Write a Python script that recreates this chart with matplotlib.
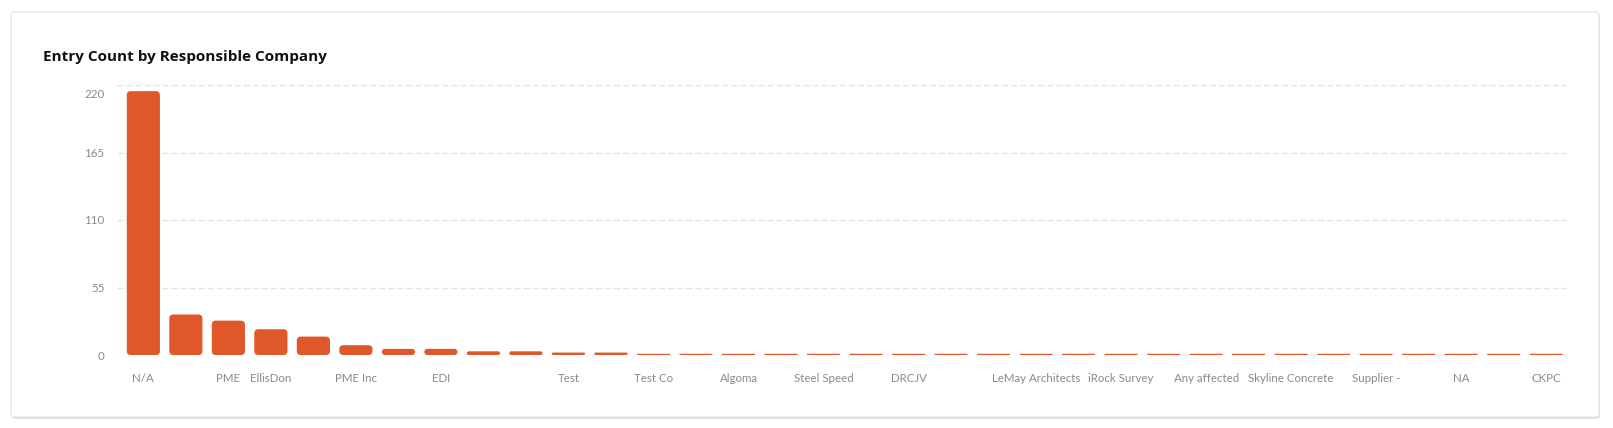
import matplotlib.pyplot as plt
from matplotlib.patches import FancyBboxPatch
from matplotlib.transforms import ScaledTranslation

# labels that are hidden in the original chart (overlap) are left blank
companies = ["N/A", "", "PME", "EllisDon", "", "PME Inc", "", "EDI", "", "",
             "Test", "", "Test Co", "", "Algoma", "", "Steel Speed", "",
             "DRCJV", "", "", "LeMay Architects", "", "iRock Survey", "",
             "Any affected", "", "Skyline Concrete", "", "Supplier -", "",
             "NA", "", "CKPC"]
counts = [215, 33, 28, 21, 15, 8, 5, 5, 3, 3, 2, 2, 1, 1, 1, 1, 1, 1, 1, 1,
          1, 1, 1, 1, 1, 1, 1, 1, 1, 1, 1, 1, 1, 1]
yticks = [0, 55, 110, 165, 220]

W, H = 1613, 428
bar_color = "#E0582A"
text_grey = "#8A8A8A"
plt.rcParams['font.family'] = ['Lato', 'DejaVu Sans']
plt.rcParams['lines.scale_dashes'] = False

fig = plt.figure(figsize=(W / 100, H / 100), dpi=100)
fig.patch.set_facecolor("white")

# card with light border and faint shadow
shadow = FancyBboxPatch((12 / W, 9 / H), 1588 / W, 405 / H,
                        boxstyle="round,pad=0,rounding_size=%f" % (3 / W),
                        mutation_aspect=W / H, transform=fig.transFigure,
                        facecolor="#E4E4E4", edgecolor="none", zorder=-11)
card = FancyBboxPatch((11 / W, 11 / H), 1588 / W, 405 / H,
                      boxstyle="round,pad=0,rounding_size=%f" % (3 / W),
                      mutation_aspect=W / H, transform=fig.transFigure,
                      facecolor="white", edgecolor="#E2E2E2", lw=0.8, zorder=-10)
fig.patches.extend([shadow, card])

fig.text(43 / W, 1 - 57 / H, "Entry Count by Responsible Company",
         fontsize=11, fontweight="bold", color="#111111", va="center", ha="left",
         family=["Open Sans", "DejaVu Sans"])

ax_l, ax_r, ax_t, ax_b = 117, 1567, 85, 355
ax = fig.add_axes([ax_l / W, 1 - ax_b / H, (ax_r - ax_l) / W, (ax_b - ax_t) / H])
ax.set_facecolor("none")

n = len(counts)
ax.set_xlim(-0.62, n - 1 + 0.49)
ax.set_ylim(0, yticks[-1])

# rounded bars, radius given in pixels
xupp = (ax.get_xlim()[1] - ax.get_xlim()[0]) / (ax_r - ax_l)
yupp = yticks[-1] / (ax_b - ax_t)
bw = 0.78
r_px = 4
for i, v in enumerate(counts):
    h_px = v / yupp
    r = min(r_px, h_px / 2, bw / xupp / 2)
    p = FancyBboxPatch((i - bw / 2, 0), bw, v,
                       boxstyle="round,pad=0,rounding_size=%f" % (r * xupp),
                       mutation_aspect=yupp / xupp,
                       facecolor=bar_color, edgecolor="none", zorder=3)
    ax.add_patch(p)

ax.set_yticks(yticks)
ax.set_yticklabels([str(t) for t in yticks])
ax.yaxis.grid(True, color="#E3E3E3", lw=1, linestyle=(0, (4.3, 2.2)))
ax.set_axisbelow(True)
ax.set_xticks(range(n))
ax.set_xticklabels(companies)
ax.tick_params(axis="both", length=0, colors=text_grey, labelsize=8.3)
ax.tick_params(axis="y", pad=9)
ax.tick_params(axis="x", pad=13)
for s in ax.spines.values():
    s.set_visible(False)

# top tick label sits a bit below its gridline
top_lbl = ax.get_yticklabels()[-1]
top_lbl.set_transform(top_lbl.get_transform() + ScaledTranslation(0, -9 / 100, fig.dpi_scale_trans))

fig.savefig("out.png", dpi=100)
